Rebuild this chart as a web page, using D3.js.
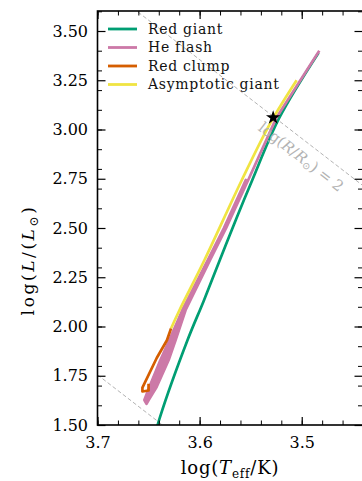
<!DOCTYPE html>
<html>
<head>
<meta charset="utf-8">
<script src="https://cdn.jsdelivr.net/npm/d3@7"></script>
<style>
  html, body { margin: 0; padding: 0; background: #fff; }
  svg { display: block; font-family: "DejaVu Serif", serif; }
</style>
</head>
<body>
<div id="chart"></div>
<script>
// evolutionary tracks (log Teff, log L/Lsun)
const redGiantTeff = [3.6437, 3.6388, 3.6119, 3.5960, 3.5800, 3.5639, 3.5487, 3.5219, 3.4835];
const redGiantLum  = [1.45, 1.54, 1.93, 2.13, 2.34, 2.55, 2.74, 3.06, 3.39];

// the flash track is a thick bundle of passes near its bottom
const heFlashTeff = [3.4828, 3.5250, 3.5524, 3.5740, 3.5897, 3.6137, 3.6235, 3.6303, 3.6421, 3.6499, 3.6520,
                     3.6541, 3.6492, 3.6384, 3.6296, 3.6169, 3.5919, 3.5762, 3.5547,
                     3.5755, 3.5912, 3.6158, 3.6276, 3.6357, 3.6468, 3.6527,
                     3.6513, 3.6444, 3.6330, 3.6255, 3.6147, 3.5904];
const heFlashLum  = [3.400, 3.058, 2.744, 2.500, 2.338, 2.084, 1.931, 1.830, 1.693, 1.627, 1.607,
                     1.627, 1.693, 1.830, 1.931, 2.084, 2.338, 2.500, 2.744,
                     2.500, 2.338, 2.084, 1.931, 1.830, 1.693, 1.627,
                     1.627, 1.693, 1.830, 1.931, 2.084, 2.338];

const redClumpTeff = [3.650, 3.650, 3.656, 3.656, 3.642, 3.632, 3.628];
const redClumpLum  = [1.71, 1.675, 1.67, 1.69, 1.84, 1.93, 1.99];

const agbTeff = [3.628, 3.620, 3.595, 3.559, 3.531, 3.505];
const agbLum  = [1.99, 2.08, 2.34, 2.74, 3.03, 3.25];

const phaseNames  = ['Red giant', 'He flash', 'Red clump', 'Asymptotic giant'];
const phaseColors = ['#009E73', '#CC79A7', '#D55E00', '#F0E442'];

// marked point and constant-radius lines
const starTeff = 3.528;
const starLum = 3.06;
const radiusLines = [1, 2];      // log(R/Rsun)
const logTeffSun = 3.7613;

const xMajorTicks = [3.7, 3.6, 3.5];
const xMinorTicks = d3.range(3.44, 3.701, 0.02);
const yMajorTicks = [1.5, 1.75, 2.0, 2.25, 2.5, 2.75, 3.0, 3.25, 3.5];
const yMinorTicks = d3.range(1.5, 3.601, 0.1);

const W = 362, H = 481;
const box = { left: 97.5, right: 363, top: 11, bottom: 425 };

const svg = d3.select('#chart').append('svg')
  .attr('width', W).attr('height', H);

const x = d3.scaleLinear().domain([3.7, 3.44]).range([box.left, box.right]);
const y = d3.scaleLinear().domain([1.5, 3.6]).range([box.bottom, box.top + 0.3]);

svg.append('clipPath').attr('id', 'plot')
  .append('rect')
  .attr('x', box.left).attr('y', box.top)
  .attr('width', box.right - box.left).attr('height', box.bottom - box.top);

const plot = svg.append('g').attr('clip-path', 'url(#plot)');

// constant radius lines: log L = 2 log R + 4 (log T - log Tsun)
const radLine = d3.line().x(d => x(d[0])).y(d => y(d[1]));
plot.append('g')
  .selectAll('path')
  .data(radiusLines)
  .enter().append('path')
  .attr('d', r => radLine([3.7, 3.44].map(t => [t, 2 * r + 4 * (t - logTeffSun)])))
  .attr('fill', 'none')
  .attr('stroke', '#b3b3b3')
  .attr('stroke-width', 1)
  .attr('stroke-dasharray', '4,2.4');

// tracks
const zip = (ts, ls) => ts.map((t, i) => [t, ls[i]]);
const tracks = [
  zip(redGiantTeff, redGiantLum),
  zip(heFlashTeff, heFlashLum),
  zip(redClumpTeff, redClumpLum),
  zip(agbTeff, agbLum)
];
const smooth = d3.line().x(d => x(d[0])).y(d => y(d[1])).curve(d3.curveCatmullRom);
const straight = d3.line().x(d => x(d[0])).y(d => y(d[1]));

// draw order: green, pink, yellow, orange
[0, 1, 3, 2].forEach(i => {
  plot.append('path')
    .attr('d', (i === 1 || i === 2) ? straight(tracks[i]) : smooth(tracks[i]))
    .attr('fill', 'none')
    .attr('stroke', phaseColors[i])
    .attr('stroke-width', 2.7)
    .attr('stroke-linejoin', 'round')
    .attr('stroke-linecap', 'butt');
});

plot.append('path')
  .attr('d', d3.symbol(d3.symbolStar).size(64)())
  .attr('transform', `translate(${x(starTeff)},${y(starLum)})`)
  .attr('fill', '#000');

// radius label, parallel to its line (slope dL/dT = 4)
const ang = Math.atan((y(2) - y(2.4)) / (x(3.6) - x(3.7))) * 180 / Math.PI;
const rLab = svg.append('text')
  .attr('transform', `translate(301,157) rotate(${ang})`)
  .attr('text-anchor', 'middle')
  .attr('dominant-baseline', 'central')
  .attr('font-size', 15)
  .attr('fill', '#b3b3b3');
rLab.append('tspan').text('log(');
rLab.append('tspan').attr('font-style', 'italic').text('R');
rLab.append('tspan').text('/');
rLab.append('tspan').attr('font-style', 'italic').text('R');
rLab.append('tspan').attr('font-size', 10).attr('dy', 3).text('⊙');
rLab.append('tspan').attr('dy', -3).text(') = 2');

// axes, ticks pointing inward
const fmtY = d3.format('.2f');
const fmtX = d3.format('.1f');

function styleAxis(g, width) {
  g.select('.domain').remove();
  g.selectAll('.tick line').attr('stroke', '#000').attr('stroke-width', width);
  g.selectAll('.tick text')
    .attr('fill', '#000')
    .attr('font-size', 16)
    .attr('font-family', '"DejaVu Serif", serif');
}

svg.append('g').attr('transform', `translate(0,${box.bottom})`)
  .call(d3.axisBottom(x).tickValues(xMinorTicks).tickSize(-4.5).tickFormat(''))
  .call(g => styleAxis(g, 1));
svg.append('g').attr('transform', `translate(0,${box.bottom})`)
  .call(d3.axisBottom(x).tickValues(xMajorTicks).tickSize(-8).tickPadding(11.6).tickFormat(fmtX))
  .call(g => styleAxis(g, 1.2));
svg.append('g').attr('transform', `translate(0,${box.top})`)
  .call(d3.axisTop(x).tickValues(xMinorTicks).tickSize(-4.5).tickFormat(''))
  .call(g => styleAxis(g, 1));
svg.append('g').attr('transform', `translate(0,${box.top})`)
  .call(d3.axisTop(x).tickValues(xMajorTicks).tickSize(-8).tickFormat(''))
  .call(g => styleAxis(g, 1.2));

svg.append('g').attr('transform', `translate(${box.left},0)`)
  .call(d3.axisLeft(y).tickValues(yMinorTicks).tickSize(-4.5).tickFormat(''))
  .call(g => styleAxis(g, 1));
svg.append('g').attr('transform', `translate(${box.left},0)`)
  .call(d3.axisLeft(y).tickValues(yMajorTicks).tickSize(-8).tickPadding(9.5).tickFormat(fmtY))
  .call(g => styleAxis(g, 1.2));
svg.append('g').attr('transform', `translate(${box.right - 0.5},0)`)
  .call(d3.axisRight(y).tickValues(yMinorTicks).tickSize(-4.5).tickFormat(''))
  .call(g => styleAxis(g, 1));
svg.append('g').attr('transform', `translate(${box.right - 0.5},0)`)
  .call(d3.axisRight(y).tickValues(yMajorTicks).tickSize(-8).tickFormat(''))
  .call(g => styleAxis(g, 1.2));

// frame
svg.append('rect')
  .attr('x', box.left).attr('y', box.top)
  .attr('width', box.right - box.left + 1).attr('height', box.bottom - box.top)
  .attr('fill', 'none')
  .attr('stroke', '#000')
  .attr('stroke-width', 1.6);

// legend
const legend = svg.append('g').attr('transform', 'translate(108,29)');
phaseNames.forEach((name, i) => {
  const row = legend.append('g').attr('transform', `translate(0,${i * 18.5})`);
  row.append('line')
    .attr('x1', 0).attr('x2', 29)
    .attr('stroke', phaseColors[i])
    .attr('stroke-width', 2.8);
  row.append('text')
    .attr('x', 40).attr('y', 4.8)
    .attr('font-size', 14)
    .attr('letter-spacing', 0.7)
    .attr('fill', '#111')
    .text(name);
});

// axis titles
const xt = svg.append('text')
  .attr('x', 230).attr('y', 474)
  .attr('text-anchor', 'middle')
  .attr('font-size', 18)
  .attr('letter-spacing', 0.8);
xt.append('tspan').text('log(');
xt.append('tspan').attr('font-style', 'italic').text('T');
xt.append('tspan').attr('font-size', 12).attr('dy', 4).text('eff');
xt.append('tspan').attr('dy', -4).text('/K)');

const yt = svg.append('text')
  .attr('transform', 'translate(34,260) rotate(-90)')
  .attr('text-anchor', 'middle')
  .attr('font-size', 17)
  .attr('letter-spacing', 2.6);
yt.append('tspan').text('log(');
yt.append('tspan').attr('font-style', 'italic').text('L');
yt.append('tspan').text('/(');
yt.append('tspan').attr('font-style', 'italic').text('L');
yt.append('tspan').attr('font-size', 12).attr('dy', 4).text('⊙');
yt.append('tspan').attr('dy', -4).text(')');
</script>
</body>
</html>
